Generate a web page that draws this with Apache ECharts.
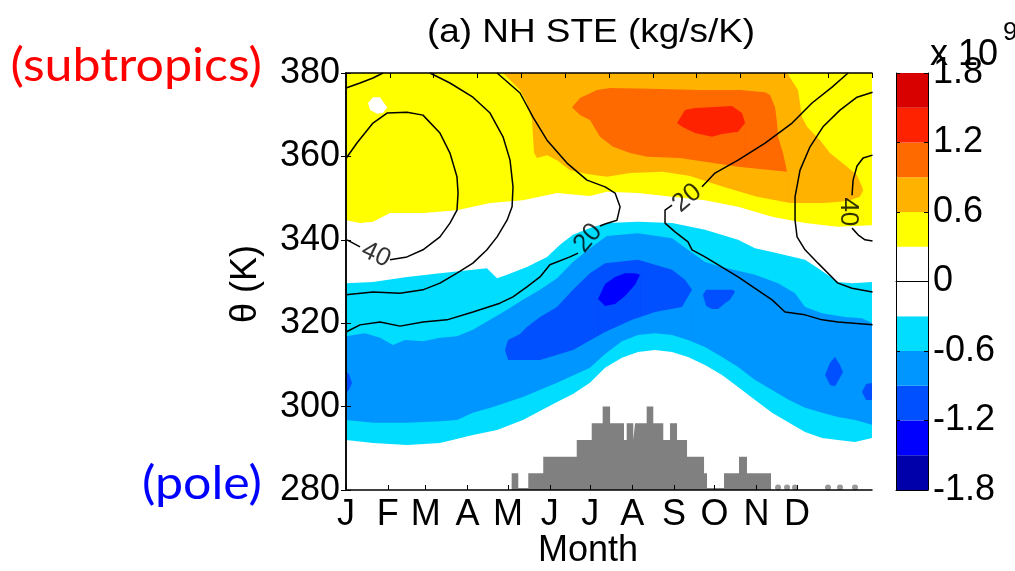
<!DOCTYPE html>
<html><head><meta charset="utf-8">
<script src="https://cdn.jsdelivr.net/npm/echarts@6/dist/echarts.min.js"></script>
<style>html,body{margin:0;padding:0;background:#fff}#c{width:1015px;height:571px}</style>
</head><body><div id="c"></div>
<script>
// ---------- axis / tick data ----------
const monthLabels = ['J','F','M','A','M','J','J','A','S','O','N','D'];
const monthStartDays = [0,31,59,90,120,151,181,212,243,273,304,334];
const colorLevels = [-1.8,-1.5,-1.2,-0.9,-0.6,-0.3,0,0.3,0.6,0.9,1.2,1.5,1.8];
const levelColors = ['#0000aa','#0000ff','#0050ff','#0096ff','#00ddff','#ffffff','#ffffff','#ffff00','#ffb300','#ff6a00','#ff2200','#d90000'];
const C = {yellow:'#ffff00', orange:'#ffb300', orangeRed:'#ff6a00', red:'#ff2200', white:'#ffffff',
           cyan:'#00ddff', blue1:'#0096ff', blue2:'#0050ff', blue3:'#0000ff'};

// ---------- filled-contour boundaries [day, theta] ----------
const topEdge = [[0,380],[390,380]];
const whiteBlobTop = [[16.3,372.8],[20,374.2],[25.2,374.2],[30.4,371.8]];
const whiteBlobBottom = [[16.3,372.8],[17.8,371.1],[23,370.2],[27.4,370.4],[30.4,371.8]];
const orangeTop = [[116.3,380],[326.7,380],[334.8,375.9],[337.8,369.4],[341.5,367.1],[351.1,363.9],[358.5,360.8],[371.1,357.5],[378.5,355.5],[382.2,352.7],[383,351.9]];
const orangeRedTop = [[167.4,371.8],[173.3,374],[185.9,375.9],[195.6,376.4],[225.2,376.2],[262.2,375.9],[291.9,375.9],[310.4,375.4],[314.1,374.7],[317.8,371.8],[319.3,368],[320,364.7],[323.7,360.8],[326.7,356.3]];
const redTop = [[245.2,368],[251.1,371.1],[258.5,371.6],[269.6,371.8],[285.9,372.1],[293.3,370.4],[295.6,368]];
const redBottom = [[245.2,368],[248.9,367.1],[258.5,365.6],[271.1,364.7],[278.5,365.4],[290.4,365.9],[295.6,368]];
const orangeRedBottom = [[167.4,371.8],[173.3,369.9],[180.7,368.7],[188.1,364.7],[197.8,362.3],[210.4,360.8],[223,359.9],[247.4,359.6],[265.9,358.7],[290.4,357.5],[315.6,356.7],[326.7,356.3]];
const orangeBottom = [[116.3,380],[128.9,375.9],[134,372.8],[137.8,368.7],[138.5,364.7],[139.3,360.8],[141.5,359.6],[148.9,360.3],[156.3,359.1],[165.9,356.7],[178.5,355.8],[193.3,355.1],[210.4,356],[234.8,356.3],[254.8,355.3],[279.3,352.7],[304.4,350.3],[328.9,348.8],[353.3,348.8],[365.9,349.1],[373.3,349.5],[380.7,350.3],[383,351.9]];
const yellowBottom = [[0,344.7],[10.4,344],[20,344.3],[32.6,346.4],[57,346.4],[82.2,347.1],[106.7,348.8],[131,349.5],[156.3,351.2],[180.7,350.5],[193.3,351.5],[216.3,351.2],[241.5,350.3],[265.9,349.5],[290.4,347.9],[315.6,345.5],[340,344],[364.4,343.1],[390,343.5]];
const cyanTop = [[0,329.6],[20,329.9],[45.2,331.1],[69.6,332],[94,332.8],[104.4,333.2],[111.9,330.8],[119.3,331.6],[134,333.5],[148.9,335.9],[158.5,338.8],[168.1,341.2],[180.7,342.8],[193.3,344],[216.3,344.3],[241.5,344],[265.9,342.4],[290.4,340],[303,338],[315.6,337.1],[340,335.2],[349.6,333.2],[364.4,329.9],[374.8,329.6],[390,329.9]];
const blue1Top = [[0,316.9],[14.1,317.6],[25.2,316.5],[34.8,314.8],[43.7,316],[57,315.7],[69.6,316.5],[82.2,316.9],[94,318.4],[106.7,320.8],[119.3,323.2],[131,325.6],[143.7,328],[156.3,330.8],[168.1,334.7],[180.7,338],[193.3,340.9],[216.3,341.6],[241.5,340.4],[253.3,337.6],[265.9,334.7],[278.5,333.5],[303,331.6],[320,329.6],[332.6,327.2],[340,323.9],[352.6,322.4],[369.6,321.5],[382.2,321.2],[390,320]];
const blue2Top = [[117.8,313.6],[120,316],[128.9,317.4],[134,319.1],[143.7,321.5],[156.3,323.9],[168.1,328],[180.7,332],[191.9,334.4],[216.3,335.2],[241.5,332.8],[251.1,330.4],[256.3,328]];
const blue3Top = [[186.7,325.8],[191.9,329.4],[199.3,331.1],[206.7,332],[214.1,332],[217.8,331.6]];
const blue3Bottom = [[186.7,325.8],[191.9,324.1],[199.3,324.6],[206.7,326.5],[214.1,329.2],[217.8,331.6]];
const blue2Bottom = [[117.8,313.6],[120,311.2],[143.7,311.2],[168.1,313.6],[191.9,317.9],[211.9,320.8],[228.9,322.7],[248.9,323.9],[256.3,328]];
const spot1Top = [[0,308.3],[2.2,307.8],[4.4,305.7]];
const spot1Bottom = [[0,303.3],[2.2,304],[4.4,305.7]];
const spot2Top = [[264.4,326.8],[266.7,328],[286.7,328],[288.1,327.5]];
const spot2Bottom = [[264.4,326.8],[266.7,324.1],[271.1,323.4],[275.6,323.4],[280.7,324.8],[284.4,325.6],[288.1,327.5]];
const spot3Top = [[354.8,307.6],[358.5,310.5],[362.2,311.9],[365.9,310],[368.1,308.3]];
const spot3Bottom = [[354.8,307.6],[358.5,305.2],[362.2,304.9],[365.9,306.9],[368.1,308.3]];
const spot4Top = [[382.2,303.5],[385.2,305.4],[390,305.7]];
const spot4Bottom = [[382.2,303.5],[385.2,301.6],[390,301.6]];
const blue1Bottom = [[0,296.8],[20,296.1],[45.2,296.1],[69.6,296.5],[82.2,296.8],[94,298.5],[108.9,299.9],[131,302.3],[156.3,305.7],[180.7,309.3],[191.9,312.6],[204.4,315.7],[216.3,317.2],[228.9,317.6],[241.5,317.2],[253.3,316],[265.9,314.3],[278.5,311.9],[290.4,309.5],[303,306.4],[315.6,304],[328.2,301.6],[340,299.7],[352.6,298.5],[364.4,297.5],[377,296.8],[390,295.6]];
const cyanBottom = [[0,292],[20,291.3],[45.2,290.8],[69.6,291.3],[94,293.2],[111.9,294.4],[131,296.8],[156.3,301.1],[168.1,303],[180.7,305.7],[191.9,309.3],[204.4,311.7],[216.3,313.1],[228.9,313.6],[241.5,313.1],[253.3,311.9],[265.9,310],[278.5,307.6],[290.4,304.7],[303,301.6],[315.6,298.5],[328.2,296.1],[340,293.9],[352.6,292.5],[364.4,292],[377,291.5],[390,292.5]];

// ---------- black contour lines [day, theta] ----------
const contourA1 = [[0.7,340],[10.4,338.3]];
const contourA2 = [[32.6,335.2],[45.2,335.9],[57,337.6],[69.6,340.7],[77,344],[82.2,347.1],[83,351.2],[82.2,355.1],[77,360.8],[69.6,365.6],[57,369.9],[45.2,370.6],[30.4,370.4],[20,368],[8.1,363.2],[0,359.5]];
const contourB = [[62.2,380],[77,377.6],[94,374.2],[106.7,370.4],[116.3,364.7],[121.5,359.1],[123.7,352.7],[123,347.9],[119.3,344.7],[111.9,340.7],[104.4,337.6],[94,334.4],[82.2,332],[69.6,329.6],[57,328],[40,327.2],[20,327.5],[0,326.8]];
const contourH = [[0,376.4],[10.4,377.6],[20,378.8],[27.4,380]];
const contourC = [[0,317.9],[10.4,319.6],[25.2,320.3],[40,319.3],[57,320.3],[74.8,320.8],[94,322.7],[114,324.8],[123.7,326.3],[134,328.7],[143.7,331.1],[151,334],[165.9,335.9],[171.9,336.8]];
const contourD = [[188.1,343.3],[191.9,343.8],[200.7,344.7],[203,347.9],[199.3,351.2],[191.9,352.7],[178.5,354.3],[163.7,358.4],[148.9,363.9],[138.5,369.4],[128.9,375.2],[111.9,380]];
const contourE1 = [[241.5,348.3],[236.3,347.1],[236.3,344],[243.7,341.9],[253.3,339.5],[256.3,337.6],[265.9,335.9],[290.4,331.1],[315.6,325.6],[325.2,322.7],[340,322],[352.6,320.8],[364.4,320.3],[390,319.6]];
const contourE2 = [[263.7,352.7],[273.3,356],[290.4,359.1],[310.4,363.2],[330.4,368],[345.2,372.8],[360,376.6],[371.9,380]];
const contourF = [[390,375.4],[378.5,374.2],[365.9,371.1],[353.3,367.1],[343.7,362.3],[336.3,356.7],[332.6,350.3],[332.6,344.7],[334.1,340.7],[340,337.6],[349.6,334.4],[364.4,329.6],[374.8,328.4],[390,327.5]];
const contourG1 = [[390,360.3],[383,359.6],[378.5,357.7],[375.6,354.3],[374.8,350.7]];
const contourG2 = [[374.8,342.8],[379.3,341.2],[384.4,340],[390,339.7]];
// contour labels: [day, theta, text, rotation]
const contourLabels = [[22.2,336.4,'40',-25],[179.3,340.4,'20',50],[252.6,350,'20',40],[371.9,346.7,'40',-90]];

// ---------- histogram (step: value holds from day to next day) ----------
const histSteps = [[122.7,1],[127.6,0.12],[135,1],[146.1,2],[170.9,3],[182,4],[190.1,5],[195.6,4],[205.9,3],[207.9,4],[212.8,3],[214.1,4],[222.7,5],[227.6,4],[235,3],[240,4],[245.2,3],[252.6,2],[265.2,1],[267.4,0.12],[280,1],[291.1,2],[297,1],[314.8,0]];
const histDots = [[320,0.15],[326.7,0.15],[332.6,0.15],[357,0.15],[365.9,0.15],[377,0.15]];

// ---------- build ----------
const fillLayers = [
  [topEdge, C.yellow],[whiteBlobTop, C.white],[whiteBlobBottom, C.yellow],
  [orangeTop, C.orange],[orangeRedTop, C.orangeRed],[redTop, C.red],[redBottom, C.orangeRed],
  [orangeRedBottom, C.orange],[orangeBottom, C.yellow],[yellowBottom, C.white],[cyanTop, C.cyan],
  [blue1Top, C.blue1],[blue2Top, C.blue2],[blue3Top, C.blue3],[blue3Bottom, C.blue2],[blue2Bottom, C.blue1],
  [spot1Top, C.blue2],[spot1Bottom, C.blue1],[spot2Top, C.blue2],[spot2Bottom, C.blue1],
  [spot3Top, C.blue2],[spot3Bottom, C.blue1],[spot4Top, C.blue2],[spot4Bottom, C.blue1],
  [blue1Bottom, C.cyan],[cyanBottom, C.white]
];
const series = [];
fillLayers.forEach(([d, col]) => series.push({
  type:'line', data:d, xAxisIndex:0, yAxisIndex:0, symbol:'none', silent:true, z:2,
  lineStyle:{width:0}, areaStyle:{color:col, opacity:1, origin:'start'}
}));
series.push({type:'line', data:histSteps, step:'end', xAxisIndex:0, yAxisIndex:2, symbol:'none', silent:true, z:3,
  lineStyle:{width:0}, areaStyle:{color:'#808080', opacity:1, origin:'start'}});
series.push({type:'scatter', data:histDots, xAxisIndex:0, yAxisIndex:2, symbol:'circle', symbolSize:6, silent:true, z:3,
  itemStyle:{color:'#808080'}});
[contourA1, contourA2, contourB, contourH, contourC, contourD, contourE1, contourE2, contourF, contourG1, contourG2]
  .forEach(d => series.push({type:'line', data:d, xAxisIndex:0, yAxisIndex:0, symbol:'none', silent:true, z:4,
    lineStyle:{color:'#000', width:1.5}}));
series.push({type:'scatter', xAxisIndex:0, yAxisIndex:0, symbolSize:1, silent:true, z:5,
  itemStyle:{color:'rgba(0,0,0,0)'},
  data: contourLabels.map(l => ({value:[l[0], l[1]], name:l[2],
    label:{show:true, position:'inside', formatter:l[2], rotate:l[3], fontSize:26, color:'#000', fontFamily:'Liberation Sans'}}))});
// colour bar
for (let i = 0; i < levelColors.length; i++) {
  series.push({type:'bar', xAxisIndex:2, yAxisIndex:3, stack:'cb', barWidth:'100%', silent:true,
    data:[+(colorLevels[i+1]-colorLevels[i]).toFixed(2)], itemStyle:{color:levelColors[i]}});
}

const F = 'Liberation Sans';
const axisBlack = {show:true, lineStyle:{color:'#000', width:1.5}};
const txt = (text, x, y, font, fill, align, extra) => Object.assign({type:'text', x:x, y:y, z:20,
  style:{text:text, fill:fill, font:font, textAlign:align, textVerticalAlign:'middle', align:align, verticalAlign:'middle'}}, extra || {});
const option = {
  animation:false,
  backgroundColor:'#fff',
  grid:[{left:346, top:73, width:526, height:417},
        {left:896, top:73, width:32, height:417}],
  xAxis:[
    {type:'value', gridIndex:0, min:0, max:389.6, position:'bottom', z:10, axisLine:axisBlack,
     splitLine:{show:false},
     axisTick:{show:true, inside:true, length:5, customValues:monthStartDays, lineStyle:{color:'#000'}},
     axisLabel:{customValues:monthStartDays, formatter:v => monthLabels[monthStartDays.indexOf(v)],
                fontSize:36, color:'#000', fontFamily:F, margin:7}},
    {type:'value', gridIndex:0, min:0, max:12, interval:1, position:'top', z:10, axisLine:axisBlack,
     splitLine:{show:false}, axisTick:{show:true, inside:true, length:5, lineStyle:{color:'#000'}},
     axisLabel:{show:false}},
    {type:'category', gridIndex:1, data:[''], position:'bottom', z:10, axisLine:{show:true, lineStyle:{color:'#000', width:1}},
     axisTick:{show:false}, axisLabel:{show:false}},
    {type:'category', gridIndex:1, data:[''], position:'top', z:10, axisLine:{show:true, lineStyle:{color:'#000', width:1}},
     axisTick:{show:false}, axisLabel:{show:false}}
  ],
  yAxis:[
    {type:'value', gridIndex:0, min:280, max:380, interval:20, position:'left', z:10, axisLine:axisBlack,
     splitLine:{show:false}, axisTick:{show:true, inside:true, length:5, lineStyle:{color:'#000'}},
     axisLabel:{fontSize:36, color:'#000', fontFamily:F, margin:6}},
    {type:'value', gridIndex:0, min:280, max:380, interval:20, position:'right', z:10, axisLine:axisBlack,
     splitLine:{show:false}, axisTick:{show:true, inside:true, length:5, lineStyle:{color:'#000'}},
     axisLabel:{show:false}},
    {type:'value', gridIndex:0, min:0, max:25, show:false},
    {type:'value', gridIndex:1, min:0, max:3.6, show:false},
    {type:'value', gridIndex:1, min:-1.8, max:1.8, interval:0.6, position:'right', z:10,
     axisLine:{show:true, lineStyle:{color:'#000', width:1}}, splitLine:{show:false},
     axisTick:{show:true, inside:true, length:4, lineStyle:{color:'#000'}},
     axisLabel:{fontSize:36, color:'#000', fontFamily:F, margin:5,
                formatter:v => Math.abs(v) < 1e-9 ? '0' : (+v).toFixed(1)}},
    {type:'value', gridIndex:1, min:-1.8, max:1.8, interval:0.6, position:'left', z:10,
     axisLine:{show:true, lineStyle:{color:'#000', width:1}}, splitLine:{show:false},
     axisTick:{show:true, inside:true, length:4, lineStyle:{color:'#000'}}, axisLabel:{show:false}}
  ],
  graphic:[
    txt('(a) NH STE (kg/s/K)', 591, 33, '34px "Liberation Sans"', '#000', 'center', {scaleX:1.086}),
    txt('Month', 588, 551, '36px "Liberation Sans"', '#000', 'center'),
    txt('θ (K)', 246, 284, '36px "Liberation Sans"', '#000', 'center', {rotation:Math.PI/2}),
    txt('(subtropics)', 262, 66, '46px Lato', '#ff0000', 'right', {scaleX:1.09}),
    txt('(pole)', 262, 484, '46px Lato', '#0000ff', 'right', {scaleX:1.09}),
    txt('x 10', 930, 55, '36px "Liberation Sans"', '#000', 'left'),
    txt('9', 1003, 33, '26px "Liberation Sans"', '#000', 'left')
  ],
  series: series
};
const chart = echarts.init(document.getElementById('c'), null, {renderer:'canvas'});
chart.setOption(option);
</script>
</body></html>
